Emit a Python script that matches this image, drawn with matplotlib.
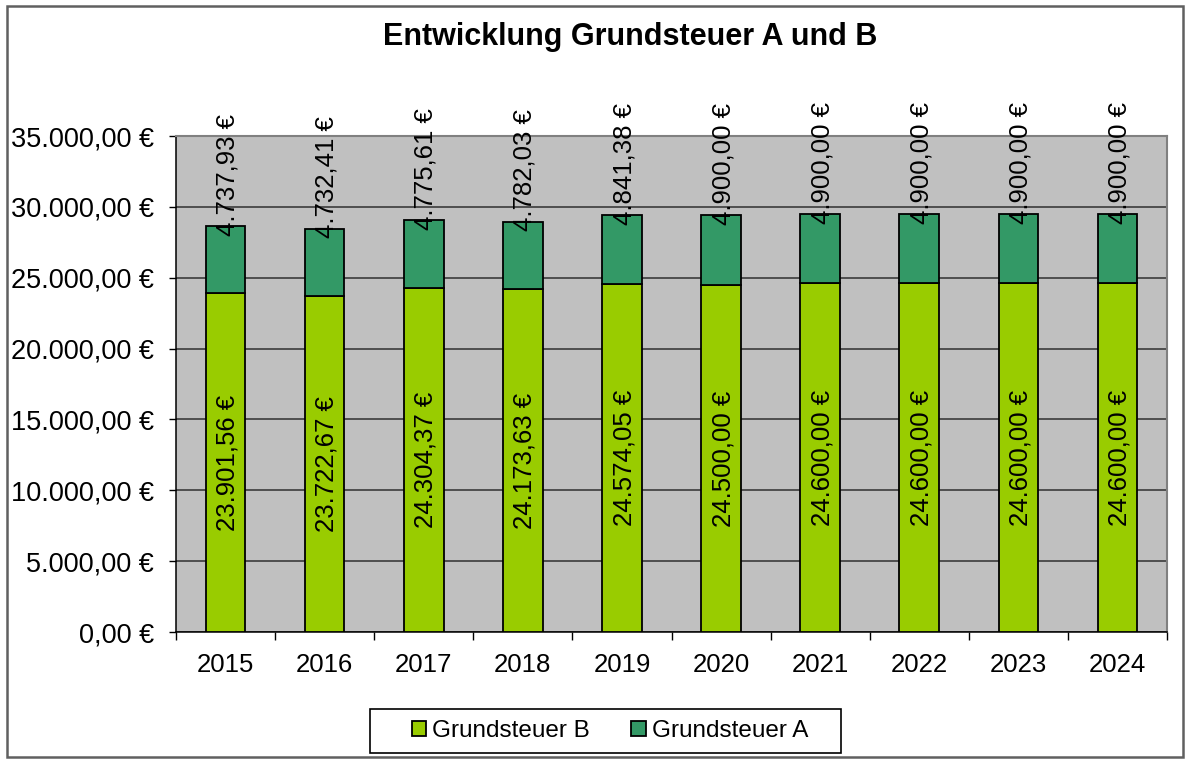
import matplotlib
matplotlib.use("Agg")
import matplotlib.pyplot as plt
from matplotlib.patches import Rectangle
from matplotlib.ticker import FuncFormatter, FixedLocator
import numpy as np

plt.rcParams['font.family'] = ['Liberation Sans', 'DejaVu Sans']

years = ["2015", "2016", "2017", "2018", "2019", "2020", "2021", "2022", "2023", "2024"]
grundsteuer_b = [23901.56, 23722.67, 24304.37, 24173.63, 24574.05, 24500.00, 24600.00, 24600.00, 24600.00, 24600.00]
grundsteuer_a = [4737.93, 4732.41, 4775.61, 4782.03, 4841.38, 4900.00, 4900.00, 4900.00, 4900.00, 4900.00]
title = "Entwicklung Grundsteuer A und B"
series_names = ["Grundsteuer B", "Grundsteuer A"]

COL_B = "#99CC00"
COL_A = "#339966"


def eur(v):
    s = f"{v:,.2f}"
    s = s.replace(",", "X").replace(".", ",").replace("X", ".")
    return s + " €"


W, H = 1188, 762
fig = plt.figure(figsize=(W / 100, H / 100), dpi=100)
fig.patch.set_facecolor("white")

ax = fig.add_axes([176 / W, 1 - 632 / H, (1167 - 176) / W, (632 - 136) / H])
ax.set_facecolor("#C0C0C0")

x = np.arange(len(years))
bw = 0.40
bars_b = ax.bar(x, grundsteuer_b, bw, color=COL_B, edgecolor="black", linewidth=1.3, zorder=3)
bars_a = ax.bar(x, grundsteuer_a, bw, bottom=grundsteuer_b, color=COL_A, edgecolor="black",
                linewidth=1.3, zorder=3)

ax.set_xlim(-0.5, len(years) - 0.5)
ax.set_ylim(0, 35000)
ax.set_yticks(np.arange(0, 35001, 5000))
ax.yaxis.set_major_formatter(FuncFormatter(lambda v, p: eur(v)))
ax.tick_params(axis="y", direction="out", length=5, width=1, pad=11, labelsize=19.5, colors="black")

ax.set_xticks(x)
ax.set_xticklabels(years)
ax.tick_params(axis="x", which="major", length=0, pad=15, labelsize=18.5)
ax.xaxis.set_minor_locator(FixedLocator(np.arange(-0.5, len(years), 1.0)))
ax.tick_params(axis="x", which="minor", direction="out", length=6, width=1)

ax.yaxis.grid(True, color="#303030", linewidth=1.1, zorder=1)
ax.set_axisbelow(True)
for s in ["left", "bottom"]:
    ax.spines[s].set_color("black")
    ax.spines[s].set_linewidth(1.1)
for s in ["top", "right"]:
    ax.spines[s].set_color("#808080")
    ax.spines[s].set_linewidth(1.5)

# data labels
for xi, b, a in zip(x, grundsteuer_b, grundsteuer_a):
    ax.annotate(eur(b), xy=(xi, b / 2), xytext=(1.5, 0), textcoords="offset points",
                rotation=90, ha="center", va="center", fontsize=18.5, zorder=6)
    ax.annotate(eur(a), xy=(xi, b + a), xytext=(1.5, -7), textcoords="offset points",
                rotation=90, ha="center", va="bottom", fontsize=18.5, zorder=6,
                annotation_clip=False)

# title
fig.text(630 / W, 1 - 37 / H, title, ha="center", va="center", fontsize=22, fontweight="bold")

# legend frame and legend
fig.patches.append(Rectangle((370 / W, 1 - 753 / H), (841 - 370) / W, (753 - 709) / H,
                             transform=fig.transFigure, fill=False, edgecolor="black",
                             linewidth=1.2))
leg = fig.legend([bars_b, bars_a], series_names, loc="center",
                 bbox_to_anchor=(610 / W, 1 - 731 / H), ncol=2, frameon=False,
                 fontsize=17.5, handlelength=0.6, handleheight=0.6, handletextpad=0.25,
                 columnspacing=1.7, borderaxespad=0)

# chart border
fig.patches.append(Rectangle((7 / W, 1 - 757 / H), (1183 - 7) / W, (757 - 6) / H,
                             transform=fig.transFigure, fill=False, edgecolor="#606060",
                             linewidth=1.8))

fig.savefig("out.png", dpi=100)
